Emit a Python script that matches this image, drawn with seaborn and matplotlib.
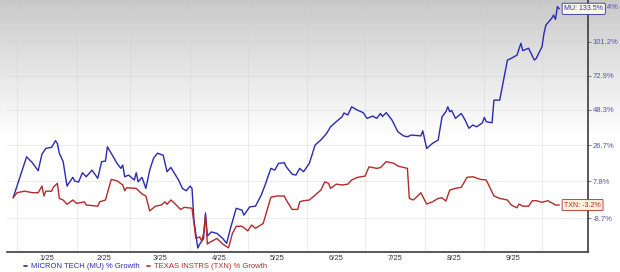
import numpy as np
import pandas as pd
import matplotlib
matplotlib.use("Agg")
import matplotlib.pyplot as plt
import matplotlib.dates as mdates
from matplotlib.lines import Line2D
import seaborn as sns

# ---------------- data ----------------
mu_dates = [
    "2024-12-30", "2025-01-06", "2025-01-09", "2025-01-12", "2025-01-14", "2025-01-16",
    "2025-01-19", "2025-01-21", "2025-01-22", "2025-01-23", "2025-01-25", "2025-01-27",
    "2025-01-30", "2025-01-31", "2025-02-02", "2025-02-04", "2025-02-06", "2025-02-09",
    "2025-02-12", "2025-02-14", "2025-02-16", "2025-02-17", "2025-02-19", "2025-02-22",
    "2025-02-24", "2025-02-25", "2025-02-26", "2025-02-28", "2025-03-03", "2025-03-04",
    "2025-03-05", "2025-03-07", "2025-03-09", "2025-03-11", "2025-03-13", "2025-03-15",
    "2025-03-18", "2025-03-20", "2025-03-22", "2025-03-26", "2025-03-28", "2025-03-30",
    "2025-04-01", "2025-04-02", "2025-04-03", "2025-04-05", "2025-04-06", "2025-04-08",
    "2025-04-09", "2025-04-10", "2025-04-12", "2025-04-15", "2025-04-18", "2025-04-20",
    "2025-04-22", "2025-04-25", "2025-04-28", "2025-04-29", "2025-05-02", "2025-05-05",
    "2025-05-08", "2025-05-10", "2025-05-13", "2025-05-15", "2025-05-17", "2025-05-20",
    "2025-05-21", "2025-05-24", "2025-05-26", "2025-05-28", "2025-05-30", "2025-06-02",
    "2025-06-05", "2025-06-08", "2025-06-11", "2025-06-13", "2025-06-16", "2025-06-19",
    "2025-06-20", "2025-06-22", "2025-06-24", "2025-06-27", "2025-06-30", "2025-07-02",
    "2025-07-05", "2025-07-07", "2025-07-09", "2025-07-10", "2025-07-12", "2025-07-15",
    "2025-07-18", "2025-07-21", "2025-07-23", "2025-07-25", "2025-07-30", "2025-07-31",
    "2025-08-02", "2025-08-05", "2025-08-08", "2025-08-10", "2025-08-12", "2025-08-13",
    "2025-08-14", "2025-08-15", "2025-08-17", "2025-08-20", "2025-08-22", "2025-08-24",
    "2025-08-26", "2025-08-28", "2025-08-31", "2025-09-01", "2025-09-02", "2025-09-05",
    "2025-09-06", "2025-09-09", "2025-09-10", "2025-09-13", "2025-09-15", "2025-09-18",
    "2025-09-20", "2025-09-21", "2025-09-24", "2025-09-27", "2025-09-28", "2025-10-01",
    "2025-10-02", "2025-10-03", "2025-10-06", "2025-10-07", "2025-10-08", "2025-10-09",
    "2025-10-10",
]
mu_growth = [
    0.0, 20.2, 17.0, 12.9, 21.7, 24.8,
    25.4, 29.2, 27.6, 22.1, 17.6, 5.4,
    9.6, 7.8, 7.3, 11.9, 9.9, 13.2,
    9.1, 17.6, 17.9, 25.7, 22.1, 16.7,
    14.1, 15.8, 9.9, 10.7, 8.3, 11.9,
    7.4, 9.6, 4.3, 13.2, 19.4, 22.1,
    21.1, 12.4, 14.6, 8.3, 4.3, 3.2,
    5.4, 4.3, -9.5, -20.2, -18.8, -16.7,
    -6.6, -15.8, -14.2, -14.8, -16.7, -18.5,
    -12.8, -4.6, -5.4, -7.5, -4.0, -3.7,
    1.2, 5.9, 14.1, 13.2, 16.7, 17.0,
    14.9, 11.2, 10.7, 14.1, 12.4, 16.7,
    26.7, 29.6, 33.5, 37.5, 40.7, 43.8,
    46.3, 45.0, 50.4, 48.2, 46.5, 42.8,
    44.3, 42.8, 46.0, 44.0, 46.5, 41.7,
    34.5, 32.0, 31.5, 32.5, 32.0, 35.0,
    24.8, 27.6, 29.6, 43.8, 47.1, 50.4,
    47.1, 48.0, 42.8, 46.0, 41.7, 36.6,
    38.6, 37.5, 40.0, 43.4, 40.7, 40.0,
    55.0, 55.0, 62.1, 85.5, 87.0, 89.7,
    100.0, 93.5, 95.6, 85.5, 87.0, 97.0,
    109.0, 117.0, 123.7, 127.0, 122.6, 135.7,
    133.5,
]

txn_dates = [
    "2024-12-30", "2025-01-01", "2025-01-05", "2025-01-09", "2025-01-12", "2025-01-14",
    "2025-01-15", "2025-01-16", "2025-01-19", "2025-01-20", "2025-01-22", "2025-01-23",
    "2025-01-25", "2025-01-27", "2025-01-30", "2025-02-01", "2025-02-05", "2025-02-06",
    "2025-02-12", "2025-02-13", "2025-02-16", "2025-02-19", "2025-02-22", "2025-02-25",
    "2025-02-26", "2025-02-27", "2025-03-04", "2025-03-07", "2025-03-09", "2025-03-11",
    "2025-03-14", "2025-03-17", "2025-03-19", "2025-03-20", "2025-03-22", "2025-03-24",
    "2025-03-27", "2025-03-29", "2025-04-02", "2025-04-04", "2025-04-06", "2025-04-07",
    "2025-04-08", "2025-04-09", "2025-04-10", "2025-04-11", "2025-04-15", "2025-04-18",
    "2025-04-21", "2025-04-23", "2025-04-25", "2025-04-28", "2025-05-01", "2025-05-03",
    "2025-05-05", "2025-05-09", "2025-05-13", "2025-05-16", "2025-05-20", "2025-05-21",
    "2025-05-24", "2025-05-27", "2025-05-28", "2025-05-30", "2025-06-02", "2025-06-05",
    "2025-06-08", "2025-06-10", "2025-06-12", "2025-06-13", "2025-06-16", "2025-06-19",
    "2025-06-22", "2025-06-24", "2025-06-27", "2025-07-01", "2025-07-03", "2025-07-07",
    "2025-07-09", "2025-07-12", "2025-07-16", "2025-07-18", "2025-07-23", "2025-07-24",
    "2025-07-26", "2025-07-28", "2025-07-30", "2025-08-02", "2025-08-05", "2025-08-08",
    "2025-08-10", "2025-08-12", "2025-08-14", "2025-08-17", "2025-08-20", "2025-08-23",
    "2025-08-26", "2025-08-30", "2025-09-02", "2025-09-06", "2025-09-09", "2025-09-13",
    "2025-09-15", "2025-09-18", "2025-09-19", "2025-09-21", "2025-09-24", "2025-09-26",
    "2025-09-28", "2025-10-01", "2025-10-04", "2025-10-06", "2025-10-08", "2025-10-10",
]
txn_growth = [
    0.0, 2.3, 3.0, 2.3, 2.3, 5.4,
    0.8, 3.0, 3.0, 5.0, 6.7, -0.3,
    -1.0, -2.9, -1.0, -2.5, -1.8, -3.2,
    -3.7, -1.8, -1.0, 8.6, 7.9, 5.9,
    3.2, 4.6, 4.3, 1.7, 0.8, -5.7,
    -3.7, -3.2, -1.8, -2.9, -1.0, -2.5,
    -5.1, -4.2, -4.6, -16.7, -16.1, -17.6,
    -15.0, -7.5, -18.8, -18.2, -16.7, -18.8,
    -20.1, -14.8, -12.0, -12.0, -13.8, -11.5,
    -12.8, -10.9, 0.2, 0.8, 0.8, -1.0,
    -5.1, -5.1, -1.8, -1.3, -1.0, 1.2,
    3.5, 7.4, 6.7, 4.3, 6.3, 5.9,
    6.3, 8.3, 9.6, 10.2, 14.9, 14.1,
    14.5, 17.6, 16.7, 15.3, 14.1, -0.3,
    -1.0, 0.5, 2.3, -2.8, -1.8, -0.3,
    0.0, -1.5, 3.5, 4.3, 4.8, 9.6,
    9.9, 8.6, 8.3, 0.8, -0.3, -1.0,
    -3.2, -4.4, -2.8, -3.7, -3.7, -1.3,
    -1.3, -2.0, -1.3, -2.2, -3.2, -3.2,
]

series_names = ["MICRON TECH (MU) % Growth", "TEXAS INSTRS (TXN) % Growth"]
short_names = ["MU", "TXN"]
y_ticks = [-8.7, 7.8, 26.7, 48.3, 72.9, 101.2, 135.4]
x_tick_labels = ["1/25", "2/25", "3/25", "4/25", "5/25", "6/25", "7/25", "8/25", "9/25"]

colors = {series_names[0]: "#2a2ab0", series_names[1]: "#b52a2a"}

# ---------------- frame ----------------
df = pd.concat([
    pd.DataFrame({"date": pd.to_datetime(mu_dates), "growth": mu_growth, "series": series_names[0]}),
    pd.DataFrame({"date": pd.to_datetime(txn_dates), "growth": txn_growth, "series": series_names[1]}),
], ignore_index=True)

sns.set_theme(style="white")
plt.rcParams["font.family"] = ["Liberation Sans", "DejaVu Sans"]

W, H = 620, 272
fig = plt.figure(figsize=(W / 100, H / 100), dpi=100)

# background gradient (grey at the top fading to white)
bg = fig.add_axes([0, 0, 1, 1], zorder=-10)
rows = np.arange(H)
vals = 0.78 + (1.0 - 0.78) * np.clip(rows / 140.0, 0, 1) ** 0.9
bg.imshow(vals[:, None], cmap="gray", vmin=0, vmax=1, aspect="auto",
          extent=[0, 1, 0, 1], origin="upper")
bg.set_axis_off()

ax = fig.add_axes([7 / W, 20 / H, 581 / W, 252 / H])
ax.set_facecolor("none")

fwd = lambda g: np.log1p(np.asarray(g, dtype=float) / 100.0)
inv = lambda v: np.expm1(np.asarray(v, dtype=float)) * 100.0
ax.set_yscale("function", functions=(fwd, inv))

sns.lineplot(data=df, x="date", y="growth", hue="series", hue_order=series_names,
             palette=colors, estimator=None, linewidth=1.0, ax=ax, legend=False)

ax.set_ylim(-21.6, 142.9)
x0 = pd.Timestamp("2025-01-01")
ax.set_xlim(mdates.date2num(x0) - 5.2, mdates.date2num(x0) + 296.9)

# y axis on the right
ax.yaxis.tick_right()
ax.set_yticks(y_ticks)
ax.set_yticklabels([f"{v:.1f}%" for v in y_ticks])
ax.yaxis.set_minor_locator(matplotlib.ticker.NullLocator())
ax.tick_params(axis="y", which="major", right=True, left=False, length=2.5, width=0.6,
               color="#666666", labelsize=5.5, labelcolor="#5555b0", pad=1)

# x axis: grid at month starts, labels mid-month
month_starts = pd.date_range("2025-01-01", "2025-10-01", freq="MS")
mids = [month_starts[i] + (month_starts[i + 1] - month_starts[i]) / 2 for i in range(len(x_tick_labels))]
ax.set_xticks(mdates.date2num(month_starts), minor=True)
ax.set_xticks(mdates.date2num(mids))
ax.set_xticklabels(x_tick_labels)
ax.tick_params(axis="x", which="both", length=0, labelsize=5.5, labelcolor="#333333", pad=2.5)
ax.set_xlabel("")
ax.set_ylabel("")

grid_kw = dict(color="#d2d2d2", linestyle=(0, (1.2, 1.2)), linewidth=0.6)
ax.xaxis.grid(True, which="minor", **grid_kw)
ax.xaxis.grid(False, which="major")
ax.yaxis.grid(True, which="major", **grid_kw)
ax.set_axisbelow(True)

for s in ["left", "top"]:
    ax.spines[s].set_visible(False)
for s in ["bottom", "right"]:
    ax.spines[s].set_color("#3c3c3c")
    ax.spines[s].set_linewidth(1.2)

# end-value labels
box_fc = ["#fdfbe6", "#fbf1dc"]
for name, short, dates, vals_, fc in zip(series_names, short_names,
                                          [mu_dates, txn_dates], [mu_growth, txn_growth], box_fc):
    c = colors[name]
    ax.annotate(f"{short}: {vals_[-1]:.1f}%", xy=(pd.Timestamp(dates[-1]), vals_[-1]),
                xytext=(3.5, 0), textcoords="offset points", ha="left", va="center",
                fontsize=5, color=c, annotation_clip=False, zorder=10,
                bbox=dict(boxstyle="round,pad=0.3,rounding_size=0.15", fc=fc, ec=c, lw=0.6))

# legend
handles = [Line2D([0], [0], color=colors[n], lw=1.2) for n in series_names]
leg = ax.legend(handles, series_names, loc="center left", bbox_to_anchor=(24 / W, 5.5 / H),
                bbox_transform=fig.transFigure, ncol=2, frameon=False, handlelength=0.45,
                handletextpad=0.5, columnspacing=0.9, fontsize=5.5, borderpad=0,
                borderaxespad=0)
for t, n in zip(leg.get_texts(), series_names):
    t.set_color(colors[n])

fig.savefig("out.png", dpi=100)
